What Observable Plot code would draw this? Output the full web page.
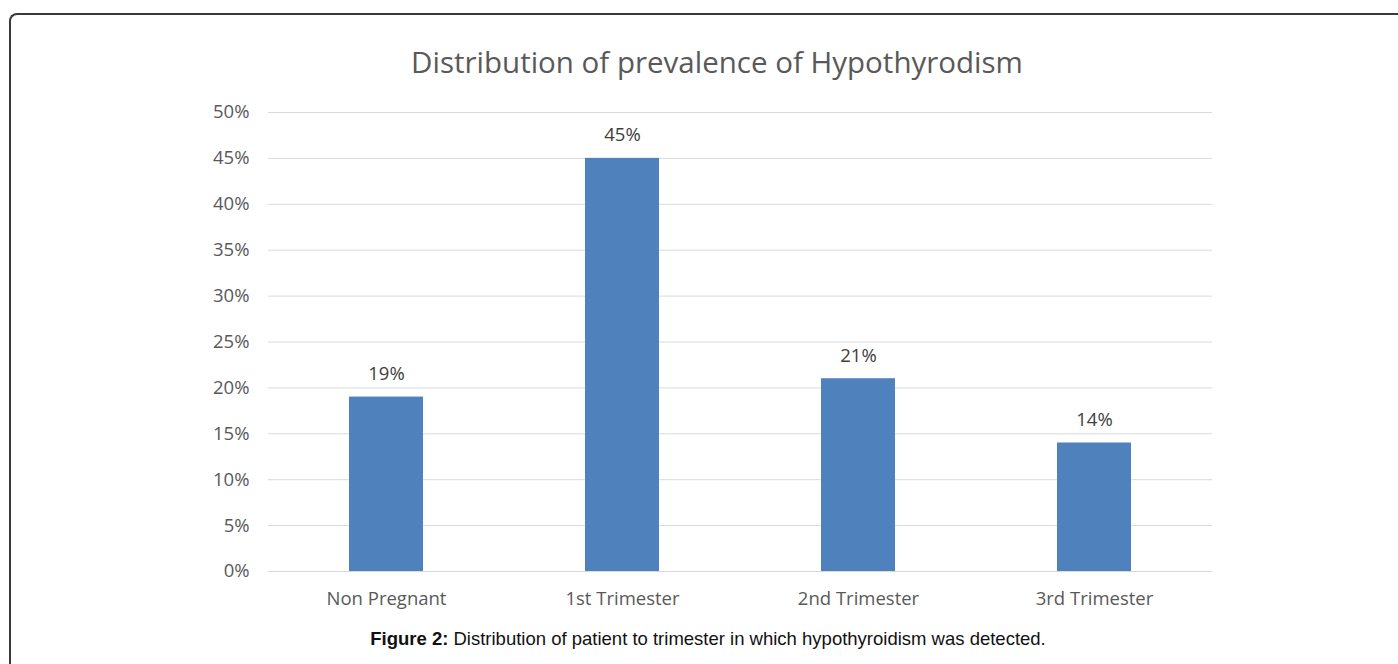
<!DOCTYPE html>
<html>
<head>
<meta charset="utf-8">
<script src="https://cdn.jsdelivr.net/npm/d3@7"></script>
<script src="https://cdn.jsdelivr.net/npm/@observablehq/plot@0.6"></script>
<style>
  html, body { margin: 0; padding: 0; background: #fff; width: 1398px; height: 664px; overflow: hidden; }
  #frame { position: absolute; left: 9px; top: 13px; width: 1420px; height: 720px;
           border-left: 2px solid #3a3a3a; border-top: 2px solid #3a3a3a; border-top-left-radius: 8px; }
  #title { position: absolute; left: 0; width: 1434px; top: 41px; text-align: center;
           font-family: "Open Sans", sans-serif; font-size: 29.5px; color: #595959; }
  #chart { position: absolute; left: 0; top: 90px; }
  #caption { position: absolute; left: 0; width: 1416px; top: 628px; text-align: center;
             font-family: "Liberation Sans", Arial, sans-serif; font-size: 18.5px; color: #111; }
</style>
</head>
<body>
<div id="frame"></div>
<div id="title">Distribution of prevalence of Hypothyrodism</div>
<div id="chart"></div>
<div id="caption"><b>Figure 2:</b> Distribution of patient to trimester in which hypothyroidism was detected.</div>
<script>
const categories = ["Non Pregnant", "1st Trimester", "2nd Trimester", "3rd Trimester"];
const values = [19, 45, 21, 14];
const yTicks = [0, 5, 10, 15, 20, 25, 30, 35, 40, 45, 50];

const data = categories.map((c, i) => ({category: c, value: values[i]}));

const chart = Plot.plot({
  width: 1398,
  height: 540,
  marginTop: 22,
  marginBottom: 59,
  marginLeft: 268,
  marginRight: 186,
  style: {fontFamily: "'Open Sans', sans-serif", fontSize: "18.5px", color: "#595959", background: "transparent"},
  x: {domain: categories, paddingInner: 0.686, paddingOuter: 0.343, label: null},
  y: {domain: [0, 50], label: null},
  marks: [
    Plot.gridY(yTicks, {stroke: "#d9d9d9", strokeOpacity: 1, strokeWidth: 1}),
    Plot.barY(data, {x: "category", y: "value", fill: "#4f81bd"}),
    Plot.ruleY([0], {stroke: "#d9d9d9", strokeWidth: 1}),
    Plot.text(data, {x: "category", y: "value", text: d => d.value + "%", dy: -23, fill: "#404040", fontSize: 18.5}),
    Plot.axisY(yTicks, {tickSize: 0, tickPadding: 19, tickFormat: d => d + "%", fill: "#595959", label: null}),
    Plot.axisX({tickSize: 0, tickPadding: 20, fill: "#595959", label: null})
  ]
});
document.getElementById("chart").appendChild(chart);
</script>
</body>
</html>
